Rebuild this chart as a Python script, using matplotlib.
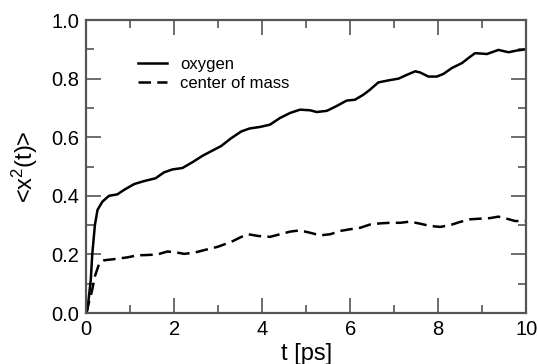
import numpy as np
import matplotlib
matplotlib.use("Agg")
import matplotlib.pyplot as plt
from matplotlib.ticker import MultipleLocator

plt.rcParams['font.family'] = ['Liberation Sans', 'DejaVu Sans']
plt.rcParams['mathtext.default'] = 'regular'

# values
t_oxygen = [0.0, 0.03, 0.107, 0.14, 0.2, 0.26, 0.37, 0.52, 0.71, 0.86, 1.09, 1.31,
            1.58, 1.77, 1.96, 2.19, 2.42, 2.65, 2.84, 3.07, 3.3, 3.53, 3.72, 3.95,
            4.18, 4.41, 4.64, 4.86, 5.09, 5.24, 5.47, 5.7, 5.92, 6.11, 6.3, 6.45,
            6.64, 6.87, 7.1, 7.29, 7.48, 7.59, 7.78, 7.97, 8.12, 8.31, 8.54, 8.73,
            8.84, 9.11, 9.37, 9.6, 9.79, 10.0]
oxygen = [0.0, 0.01, 0.113, 0.2, 0.3, 0.352, 0.38, 0.4, 0.405, 0.42, 0.44, 0.45,
          0.46, 0.48, 0.49, 0.495, 0.515, 0.537, 0.552, 0.57, 0.597, 0.62, 0.63, 0.635,
          0.643, 0.666, 0.683, 0.694, 0.692, 0.686, 0.69, 0.707, 0.725, 0.728, 0.745, 0.762,
          0.787, 0.794, 0.8, 0.813, 0.825, 0.821, 0.807, 0.807, 0.816, 0.836, 0.853, 0.875,
          0.887, 0.884, 0.898, 0.89, 0.896, 0.9]

t_com = [0.0, 0.1, 0.14, 0.2, 0.3, 0.41, 0.64, 0.94, 1.16, 1.39, 1.62, 1.85, 2.0,
         2.23, 2.46, 2.69, 2.99, 3.3, 3.53, 3.68, 3.91, 4.18, 4.41, 4.64, 4.86,
         5.09, 5.32, 5.55, 5.77, 6.0, 6.23, 6.45, 6.68, 6.91, 7.14, 7.36, 7.59,
         7.82, 8.05, 8.27, 8.5, 8.73, 8.95, 9.18, 9.37, 9.56, 9.75, 10.0]
com = [0.0, 0.056, 0.08, 0.125, 0.17, 0.18, 0.184, 0.19, 0.197, 0.198, 0.2, 0.21, 0.208,
       0.202, 0.206, 0.215, 0.226, 0.243, 0.26, 0.269, 0.263, 0.26, 0.269, 0.278, 0.282,
       0.274, 0.265, 0.269, 0.28, 0.286, 0.291, 0.302, 0.306, 0.308, 0.308, 0.312, 0.305,
       0.297, 0.294, 0.3, 0.311, 0.32, 0.322, 0.324, 0.329, 0.322, 0.314, 0.314]

fig = plt.figure(figsize=(5.38, 3.64), dpi=100)
ax = fig.add_axes([0.160, 0.140, 0.818, 0.805])

ax.plot(t_oxygen, oxygen, '-', color='black', lw=1.8, label='oxygen')
ax.plot(t_com, com, '--', color='black', lw=1.8, dashes=(5, 2.5), label='center of mass')

ax.set_xlim(0, 10)
ax.set_ylim(0, 1.0)
ax.xaxis.set_major_locator(MultipleLocator(2))
ax.xaxis.set_minor_locator(MultipleLocator(1))
ax.yaxis.set_major_locator(MultipleLocator(0.2))
ax.yaxis.set_minor_locator(MultipleLocator(0.1))
ax.yaxis.set_major_formatter(matplotlib.ticker.FormatStrFormatter('%.1f'))

spine_col = '#555555'
for s in ax.spines.values():
    s.set_color(spine_col)
    s.set_linewidth(1.6)
ax.tick_params(which='both', direction='in', top=True, right=True, color=spine_col,
               width=1.2, labelsize=14.5, labelcolor='black')
ax.tick_params(which='major', length=10.5, pad=5)
ax.tick_params(which='minor', length=5.5)

ax.set_xlabel('t [ps]', fontsize=17, labelpad=3)
ax.set_ylabel('<x$^{2}$(t)>', fontsize=17, labelpad=8)

ax.legend(loc='upper left', bbox_to_anchor=(0.118, 0.875), frameon=False,
          fontsize=12, handlelength=1.74, handletextpad=0.78, labelspacing=0.25,
          borderpad=0, borderaxespad=0)

fig.savefig('out.png', dpi=100)
